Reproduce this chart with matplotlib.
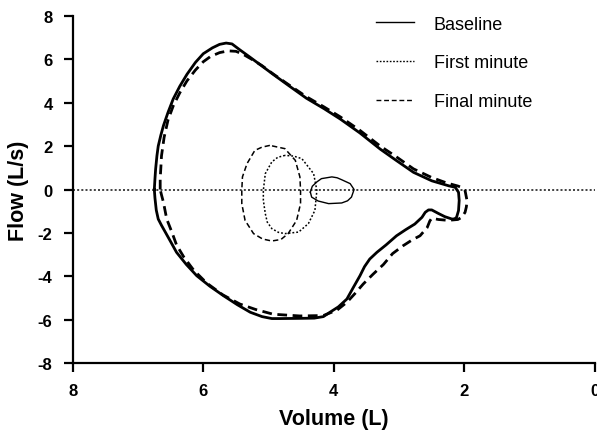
import numpy as np
import matplotlib
matplotlib.use("Agg")
import matplotlib.pyplot as plt
from matplotlib.lines import Line2D

plt.rcParams['font.family'] = ['Liberation Sans', 'DejaVu Sans']
plt.rcParams['axes.unicode_minus'] = False

# maximal flow-volume loops (volume in L, flow in L/s)
base_vol = [6.75, 6.74, 6.73, 6.71, 6.69, 6.65, 6.61, 6.54, 6.46, 6.36, 6.25, 6.12, 6.00,
            5.86, 5.75, 5.65, 5.56, 5.45, 5.28, 5.10, 4.93, 4.70, 4.42, 4.15, 3.90, 3.60,
            3.29, 3.05, 2.78, 2.50, 2.24, 2.14, 2.09, 2.08, 2.09, 2.12, 2.15, 2.19, 2.30,
            2.40, 2.50, 2.55, 2.60, 2.65, 2.76, 2.90, 3.04, 3.20, 3.34, 3.45, 3.53, 3.60,
            3.70, 3.80, 3.93, 4.06, 4.16, 4.30, 4.50, 4.82, 4.95, 5.10, 5.28, 5.48, 5.69,
            5.90, 6.10, 6.26, 6.41, 6.50, 6.58, 6.64, 6.69, 6.72, 6.74, 6.75]
base_flow = [0.00, 0.50, 0.94, 1.55, 2.00, 2.50, 2.94, 3.55, 4.17, 4.75, 5.30, 5.85, 6.25,
             6.52, 6.68, 6.74, 6.70, 6.45, 6.08, 5.68, 5.30, 4.80, 4.20, 3.72, 3.24, 2.60,
             1.86, 1.35, 0.79, 0.40, 0.17, 0.10, -0.13, -0.50, -0.97, -1.28, -1.35, -1.36,
             -1.25, -1.10, -0.94, -0.94, -1.05, -1.28, -1.59, -1.85, -2.13, -2.55, -2.89,
             -3.20, -3.55, -3.97, -4.50, -5.04, -5.40, -5.65, -5.85, -5.92, -5.93, -5.94,
             -5.94, -5.85, -5.65, -5.30, -4.89, -4.45, -3.97, -3.45, -2.89, -2.40, -1.97,
             -1.65, -1.36, -0.95, -0.40, 0.00]

final_vol = [6.66, 6.66, 6.65, 6.64, 6.60, 6.54, 6.46, 6.36, 6.25, 6.12, 6.00, 5.89, 5.75,
             5.62, 5.50, 5.40, 5.25, 5.10, 4.93, 4.70, 4.42, 4.15, 3.90, 3.60, 3.29, 3.05,
             2.78, 2.50, 2.27, 2.10, 2.03, 1.99, 1.96, 1.97, 1.99, 2.04, 2.10, 2.25, 2.40,
             2.50, 2.53, 2.57, 2.68, 2.80, 2.94, 3.10, 3.24, 3.40, 3.55, 3.68, 3.80, 3.95,
             4.16, 4.52, 4.93, 5.20, 5.44, 5.70, 5.95, 6.15, 6.30, 6.41, 6.48, 6.56, 6.61,
             6.64, 6.66]
final_flow = [0.00, 0.50, 1.00, 1.55, 2.40, 3.20, 3.85, 4.45, 5.00, 5.50, 5.88, 6.12, 6.30,
              6.38, 6.36, 6.24, 5.98, 5.70, 5.32, 4.84, 4.27, 3.80, 3.34, 2.72, 2.00, 1.52,
              0.95, 0.55, 0.30, 0.16, 0.08, -0.05, -0.51, -0.80, -1.05, -1.28, -1.38, -1.42,
              -1.38, -1.32, -1.45, -1.75, -2.13, -2.32, -2.59, -2.95, -3.45, -3.90, -4.35,
              -4.80, -5.19, -5.55, -5.80, -5.82, -5.74, -5.52, -5.27, -4.85, -4.30, -3.70,
              -3.10, -2.55, -1.97, -1.36, -0.59, -0.25, 0.00]

# tidal loops
tid_base_vol = [4.36, 4.33, 4.26, 4.19, 4.03, 3.95, 3.88, 3.75, 3.69, 3.73, 3.79, 3.88,
                4.08, 4.24, 4.34, 4.36]
tid_base_flow = [-0.12, 0.15, 0.35, 0.50, 0.58, 0.54, 0.45, 0.27, 0.00, -0.35, -0.52, -0.62,
                 -0.65, -0.53, -0.35, -0.12]

tid_first_vol = [4.75, 4.86, 4.95, 5.05, 5.08, 5.08, 5.05, 5.02, 4.95, 4.85, 4.75, 4.54,
                 4.39, 4.29, 4.26, 4.31, 4.49, 4.62, 4.75]
tid_first_flow = [1.57, 1.48, 1.27, 0.73, -0.04, -0.50, -1.11, -1.50, -1.80, -1.97, -2.03,
                  -1.96, -1.57, -0.96, -0.04, 0.73, 1.42, 1.54, 1.57]

tid_final_vol = [4.98, 5.10, 5.21, 5.33, 5.40, 5.41, 5.41, 5.36, 5.23, 5.09, 4.95, 4.81,
                 4.70, 4.57, 4.51, 4.51, 4.52, 4.59, 4.75, 4.98]
tid_final_flow = [2.03, 1.95, 1.80, 1.19, 0.58, -0.04, -0.65, -1.42, -2.03, -2.28, -2.37,
                  -2.30, -2.03, -1.42, -0.65, -0.04, 0.58, 1.34, 1.88, 2.03]

labels = ['Baseline', 'First minute', 'Final minute']

fig = plt.figure(figsize=(5.97, 4.31), dpi=100)
ax = fig.add_axes([0.1218, 0.1547, 0.8748, 0.8066])

ax.axhline(0, color='#222222', lw=1.2, ls=(0, (1.2, 1.3)), zorder=1)

ax.plot(base_vol, base_flow, color='black', lw=2.0, solid_joinstyle='round')
ax.plot(final_vol, final_flow, color='black', lw=2.0, ls=(0, (3.5, 2.0)))

ax.plot(tid_base_vol, tid_base_flow, color='black', lw=1.0, solid_joinstyle='round')
ax.plot(tid_first_vol, tid_first_flow, color='black', lw=1.1, ls=(0, (1.2, 1.3)))
ax.plot(tid_final_vol, tid_final_flow, color='black', lw=1.1, ls=(0, (3.5, 2.0)))

ax.set_xlim(8, 0)
ax.set_ylim(-8, 8)
ax.set_xticks([8, 6, 4, 2, 0])
ax.set_yticks(np.arange(-8, 9, 2))

for s in ['top', 'right']:
    ax.spines[s].set_visible(False)
for s in ['left', 'bottom']:
    ax.spines[s].set_linewidth(1.6)
ax.tick_params(direction='out', length=6.5, width=1.6, labelsize=12)
ax.tick_params(axis='x', pad=8)
ax.tick_params(axis='y', pad=8)
for t in ax.get_xticklabels() + ax.get_yticklabels():
    t.set_fontweight('bold')

ax.set_xlabel('Volume (L)', fontsize=15.5, fontweight='bold', labelpad=7)
ax.set_ylabel('Flow (L/s)', fontsize=15.5, fontweight='bold', labelpad=6)

handles = [Line2D([], [], color='black', lw=1.0),
           Line2D([], [], color='black', lw=1.0, ls=(0, (1.2, 1.2))),
           Line2D([], [], color='black', lw=1.0, ls=(0, (3.5, 2.0)))]
ax.legend(handles, labels, loc='upper left', bbox_to_anchor=(0.615, 0.982),
          bbox_transform=fig.transFigure, frameon=False, fontsize=13,
          handlelength=2.1, handletextpad=1.1, labelspacing=1.2, borderpad=0)

fig.savefig('out.png', dpi=100)
